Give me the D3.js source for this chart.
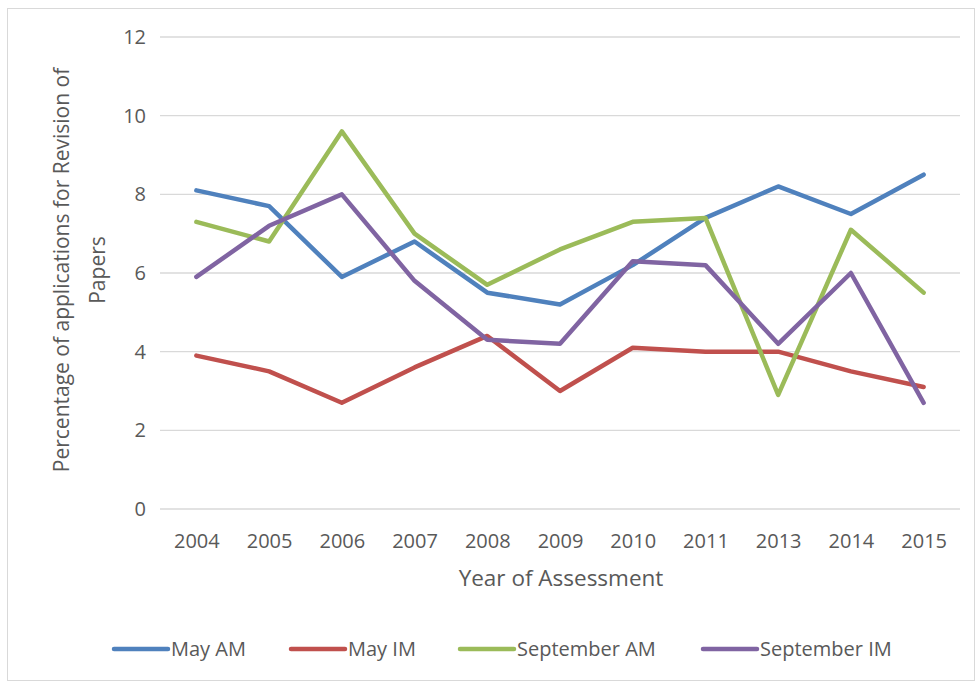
<!DOCTYPE html>
<html>
<head>
<meta charset="utf-8">
<script src="https://cdn.jsdelivr.net/npm/d3@7"></script>
<style>
  body { margin: 0; background: #fff; }
  text { font-family: "Open Sans", sans-serif; fill: #595959; }
</style>
</head>
<body>
<svg id="chart"></svg>
<script>
// data
var years = ["2004", "2005", "2006", "2007", "2008", "2009", "2010", "2011", "2013", "2014", "2015"];
var mayAM = [8.1, 7.7, 5.9, 6.8, 5.5, 5.2, 6.2, 7.4, 8.2, 7.5, 8.5];
var mayIM = [3.9, 3.5, 2.7, 3.6, 4.4, 3.0, 4.1, 4.0, 4.0, 3.5, 3.1];
var sepAM = [7.3, 6.8, 9.6, 7.0, 5.7, 6.6, 7.3, 7.4, 2.9, 7.1, 5.5];
var sepIM = [5.9, 7.2, 8.0, 5.8, 4.3, 4.2, 6.3, 6.2, 4.2, 6.0, 2.7];
var yTicks = [0, 2, 4, 6, 8, 10, 12];

var series = [
    { name: "May AM", values: mayAM, color: "#4f81bd" },
    { name: "May IM", values: mayIM, color: "#c0504d" },
    { name: "September AM", values: sepAM, color: "#9bbb59" },
    { name: "September IM", values: sepIM, color: "#8064a2" }
];

var svgWidth = 978, svgHeight = 684;
var margin = { top: 37, right: 18, bottom: 175, left: 160 };
var width = svgWidth - margin.left - margin.right;
var height = svgHeight - margin.top - margin.bottom;

var svg = d3.select("#chart")
    .attr("width", svgWidth)
    .attr("height", svgHeight);

// chart frame
svg.append("rect")
    .attr("x", 7.5).attr("y", 8.5)
    .attr("width", 967).attr("height", 672)
    .attr("fill", "none")
    .attr("stroke", "#d9d9d9");

var g = svg.append("g")
    .attr("transform", "translate(" + margin.left + "," + margin.top + ")");

var xScale = d3.scalePoint()
    .domain(years)
    .range([0, width])
    .padding(0.5);

var yScale = d3.scaleLinear()
    .domain([0, 12])
    .range([height, 0]);

// gridlines
g.append("g")
    .selectAll("line")
    .data(yTicks)
    .join("line")
    .attr("x1", 0).attr("x2", width)
    .attr("y1", d => yScale(d)).attr("y2", d => yScale(d))
    .attr("stroke", "#d9d9d9")
    .attr("stroke-width", 1.3);

var yAxis = g.append("g")
    .call(d3.axisLeft(yScale).tickValues(yTicks).tickSize(0).tickPadding(14));
yAxis.select(".domain").remove();
yAxis.selectAll("text").style("font-size", "20px").attr("fill", "#595959");

var xAxis = g.append("g")
    .attr("transform", "translate(0," + height + ")")
    .call(d3.axisBottom(xScale).tickSize(0).tickPadding(25));
xAxis.select(".domain").remove();
xAxis.selectAll("text").style("font-size", "20px").attr("fill", "#595959");

var line = d3.line()
    .x((d, i) => xScale(years[i]))
    .y(d => yScale(d));

g.selectAll(".series")
    .data(series)
    .join("path")
    .attr("class", "series")
    .attr("fill", "none")
    .attr("stroke", d => d.color)
    .attr("stroke-width", 4.5)
    .attr("stroke-linejoin", "round")
    .attr("stroke-linecap", "round")
    .attr("d", d => line(d.values));

// axis titles
svg.append("text")
    .attr("x", 561).attr("y", 586)
    .attr("text-anchor", "middle")
    .style("font-size", "22.5px")
    .text("Year of Assessment");

var yTitle = svg.append("text")
    .attr("transform", "translate(69,270) rotate(-90)")
    .attr("text-anchor", "middle")
    .style("font-size", "21px");
yTitle.append("tspan").attr("x", 0).attr("dy", 0).text("Percentage of applications for Revision of");
yTitle.append("tspan").attr("x", 0).attr("dy", 36).text("Papers");

// legend
var legendX = [112, 289, 458, 701];
var legend = svg.append("g")
    .selectAll("g")
    .data(series)
    .join("g")
    .attr("transform", (d, i) => "translate(" + legendX[i] + ",649)");
legend.append("line")
    .attr("x1", 2).attr("x2", 56)
    .attr("stroke", d => d.color)
    .attr("stroke-width", 4.5)
    .attr("stroke-linecap", "round");
legend.append("text")
    .attr("x", 59).attr("y", 7)
    .style("font-size", "20px")
    .text(d => d.name);
</script>
</body>
</html>
